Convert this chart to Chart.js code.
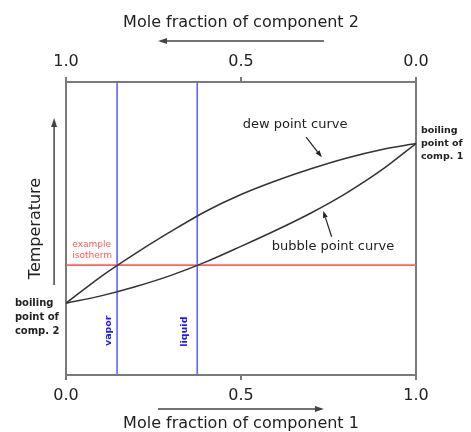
<!DOCTYPE html>
<html><head><meta charset="utf-8">
<script src="https://cdn.jsdelivr.net/npm/chart.js@4"></script>
<style>html,body{margin:0;padding:0;background:#fff}</style>
</head><body>
<canvas id="c" width="471" height="432" style="display:block;width:471px;height:432px"></canvas>
<script>
// ---- data ----
const moleFraction1 = [0, 0.1, 0.2, 0.3, 0.4, 0.5, 0.6, 0.7, 0.8, 0.9, 1.0];
const dewPointT     = [24.5, 33.6, 41.6, 49.0, 55.9, 61.6, 66.3, 70.4, 74.0, 76.9, 79.0];
const bubblePointT  = [24.5, 27.0, 30.2, 34.0, 38.6, 43.9, 49.4, 55.3, 62.0, 69.8, 79.0];
const isothermT = 37.5;
const vaporX = 0.146;
const liquidX = 0.375;
const tickValues = [0, 0.5, 1];
const xTitle1 = 'Mole fraction of component 1';
const xTitle2 = 'Mole fraction of component 2';
const yTitle = 'Temperature';

const FONT = "'DejaVu Sans'";
const frameColor = '#7a7a7a';
const textColor = '#222';

function arrow(ctx, x1, y1, x2, y2, color, w, hl, hw) {
  ctx.save();
  ctx.strokeStyle = color; ctx.fillStyle = color; ctx.lineWidth = w;
  const a = Math.atan2(y2 - y1, x2 - x1);
  const bx = x2 - hl * Math.cos(a), by = y2 - hl * Math.sin(a);
  ctx.beginPath(); ctx.moveTo(x1, y1); ctx.lineTo(bx, by); ctx.stroke();
  ctx.beginPath(); ctx.moveTo(x2, y2);
  ctx.lineTo(bx + hw * Math.sin(a), by - hw * Math.cos(a));
  ctx.lineTo(bx - hw * Math.sin(a), by + hw * Math.cos(a));
  ctx.closePath(); ctx.fill();
  ctx.restore();
}

const annotations = {
  id: 'annotations',
  afterDraw(chart) {
    const ctx = chart.ctx;
    const xs = chart.scales.x, ys = chart.scales.y;
    const px = v => xs.getPixelForValue(v), py = v => ys.getPixelForValue(v);
    // axis arrows
    arrow(ctx, px(0.737), py(114), px(0.263), py(114), '#444', 1.5, 9, 3);
    arrow(ctx, px(0.263), py(-11.6), px(0.737), py(-11.6), '#444', 1.5, 9, 3);
    arrow(ctx, px(-0.034), py(30.7), px(-0.034), py(87.7), '#444', 1.5, 9, 3);
    // curve pointers
    arrow(ctx, px(0.686), py(81.2), px(0.731), py(74.3), '#222', 1.2, 7, 2.5);
    arrow(ctx, px(0.759), py(47.2), px(0.735), py(56.0), '#222', 1.2, 7, 2.5);

    ctx.save();
    ctx.textBaseline = 'middle';
    ctx.fillStyle = textColor;
    ctx.textAlign = 'left';
    ctx.font = '13px ' + FONT;
    ctx.fillText('dew point curve', px(0.505), py(85.3));
    ctx.fillText('bubble point curve', px(0.588), py(43.8));

    ctx.font = 'bold 9.5px ' + FONT;
    ['boiling', 'point of', 'comp. 1'].forEach((t, i) => ctx.fillText(t, px(1.014), py([83.4, 79.1, 74.7][i])));
    ctx.font = 'bold 10px ' + FONT;
    ['boiling', 'point of', 'comp. 2'].forEach((t, i) => ctx.fillText(t, px(-0.146), py([24.5, 19.7, 15.0][i])));

    ctx.fillStyle = '#ff5a5a';
    ctx.font = '9px ' + FONT;
    ctx.fillText('example', px(0.018), py(44.4));
    ctx.fillText('isotherm', px(0.018), py(40.6));

    ctx.fillStyle = '#1a1aff';
    ctx.font = 'bold 9.5px ' + FONT;
    ctx.textAlign = 'center';
    [['vapor', 0.121, 15.1], ['liquid', 0.34, 14.8]].forEach(([t, vx, vy]) => {
      ctx.save();
      ctx.translate(px(vx), py(vy));
      ctx.rotate(-Math.PI / 2);
      ctx.fillText(t, 0, 0);
      ctx.restore();
    });
    ctx.restore();
  }
};

const curve = (vals) => moleFraction1.map((x, i) => ({ x, y: vals[i] }));

const axisGrid = { drawOnChartArea: false, drawTicks: true, tickLength: 5, tickColor: frameColor, tickWidth: 2, color: frameColor, lineWidth: 2 };
const tickStyle = { font: { family: FONT, size: 16 }, color: textColor, padding: 6, autoSkip: false, maxRotation: 0,
                    callback: v => Number(v).toFixed(1) };

new Chart(document.getElementById('c'), {
  type: 'scatter',
  data: {
    datasets: [
      { data: curve(dewPointT), showLine: true, borderColor: '#333', borderWidth: 1.5, pointRadius: 0, cubicInterpolationMode: 'monotone' },
      { data: curve(bubblePointT), showLine: true, borderColor: '#333', borderWidth: 1.5, pointRadius: 0, cubicInterpolationMode: 'monotone' },
      { data: [{ x: 0, y: isothermT }, { x: 1, y: isothermT }], showLine: true, borderColor: '#ff6262', borderWidth: 1.6, pointRadius: 0 },
      { data: [{ x: vaporX, y: 0 }, { x: vaporX, y: 100 }], showLine: true, borderColor: '#6262ff', borderWidth: 1.6, pointRadius: 0 },
      { data: [{ x: liquidX, y: 0 }, { x: liquidX, y: 100 }], showLine: true, borderColor: '#6262ff', borderWidth: 1.6, pointRadius: 0 }
    ]
  },
  options: {
    responsive: false,
    animation: false,
    devicePixelRatio: 1,
    layout: { padding: { left: 0, right: 55, top: 0, bottom: 0 } },
    plugins: { legend: { display: false }, tooltip: { enabled: false } },
    scales: {
      x: {
        type: 'linear', position: 'bottom', min: 0, max: 1,
        afterBuildTicks: s => { s.ticks = tickValues.map(v => ({ value: v })); },
        ticks: tickStyle,
        grid: axisGrid,
        border: { color: frameColor, width: 2 },
        title: { display: true, text: xTitle1, color: textColor, font: { family: FONT, size: 16, lineHeight: 1.0 }, padding: { top: 4.8, bottom: 0 } }
      },
      x2: {
        type: 'linear', position: 'top', min: 0, max: 1, reverse: true,
        afterBuildTicks: s => { s.ticks = tickValues.map(v => ({ value: v })); },
        ticks: tickStyle,
        grid: axisGrid,
        border: { color: frameColor, width: 2 },
        title: { display: true, text: xTitle2, color: textColor, font: { family: FONT, size: 16, lineHeight: 1.0 }, padding: { top: 15, bottom: 14.8 } }
      },
      y: {
        type: 'linear', position: 'left', min: 0, max: 100,
        ticks: { display: false },
        grid: { drawOnChartArea: false, drawTicks: false },
        border: { color: frameColor, width: 2 },
        title: { display: true, text: yTitle, color: textColor, font: { family: FONT, size: 16, lineHeight: 1.0 }, padding: { top: 28, bottom: 22 } }
      },
      y2: {
        type: 'linear', position: 'right', min: 0, max: 100,
        ticks: { display: false },
        grid: { drawOnChartArea: false, drawTicks: false },
        border: { color: frameColor, width: 2 }
      }
    }
  },
  plugins: [annotations]
});
</script>
</body></html>
